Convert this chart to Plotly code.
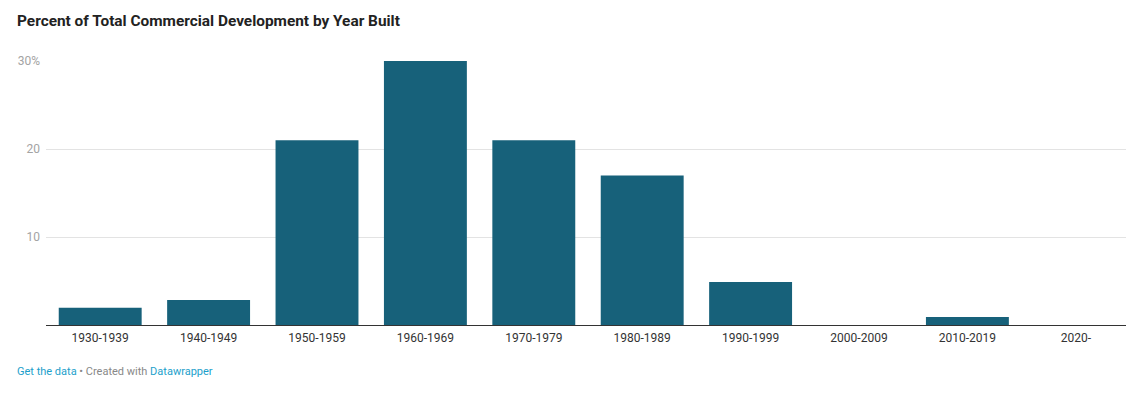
import plotly.graph_objects as go

categories = ["1930-1939", "1940-1949", "1950-1959", "1960-1969", "1970-1979",
              "1980-1989", "1990-1999", "2000-2009", "2010-2019", "2020-"]
values = [1.95, 2.85, 21, 30, 21, 17, 4.9, 0, 0.9, 0]
y_tickvals = [10, 20, 30]
y_ticktext = ["10", "20", "30%"]

# page has an 8px body margin, so figure is sized to fit inside the window
OFF = 8
W, H = 1134 - OFF, 394 - OFF
L, R, T, B = 46 - OFF, 4, 61 - OFF, 69

fig = go.Figure()
fig.add_trace(go.Bar(
    x=categories, y=values,
    marker=dict(color="#17617a", line=dict(width=0)),
    hoverinfo="x+y",
))

fig.update_layout(
    width=W, height=H,
    margin=dict(l=L, r=R, t=T, b=B, autoexpand=False),
    paper_bgcolor="white", plot_bgcolor="white",
    font=dict(family="Roboto, sans-serif", color="#333"),
    bargap=0.235,
    showlegend=False,
    title=dict(
        text="<b>Percent of Total Commercial Development by Year Built</b>",
        x=(17 - OFF) / W, xanchor="left", xref="container",
        y=1 - (21 - OFF) / H, yanchor="middle", yref="container",
        font=dict(size=15.4, color="#222", family="Roboto, sans-serif"),
    ),
    xaxis=dict(
        showgrid=False, showline=True, linecolor="#333", linewidth=1,
        ticks="", tickfont=dict(size=12, color="#333"),
        ticklabelstandoff=2,
        fixedrange=True,
    ),
    yaxis=dict(
        range=[0, 30], tickvals=y_tickvals, ticktext=y_ticktext,
        showgrid=True, gridcolor="#e3e3e3", gridwidth=1,
        zeroline=False, showline=False, ticks="",
        tickfont=dict(size=12, color="#a3a3a3"),
        ticklabelstandoff=5,
        fixedrange=True,
    ),
)

plot_w = W - L - R
plot_h = H - T - B
fig.add_annotation(
    text='<span style="color:#1d9fcb">Get the data</span> • Created with '
         '<span style="color:#1d9fcb">Datawrapper</span>',
    x=(15 - 46) / plot_w, y=(325 - 371) / plot_h, xref="paper", yref="paper",
    xanchor="left", yanchor="middle", showarrow=False,
    font=dict(size=11, color="#888", family="Roboto, sans-serif"),
)

fig.write_html("out.html")
